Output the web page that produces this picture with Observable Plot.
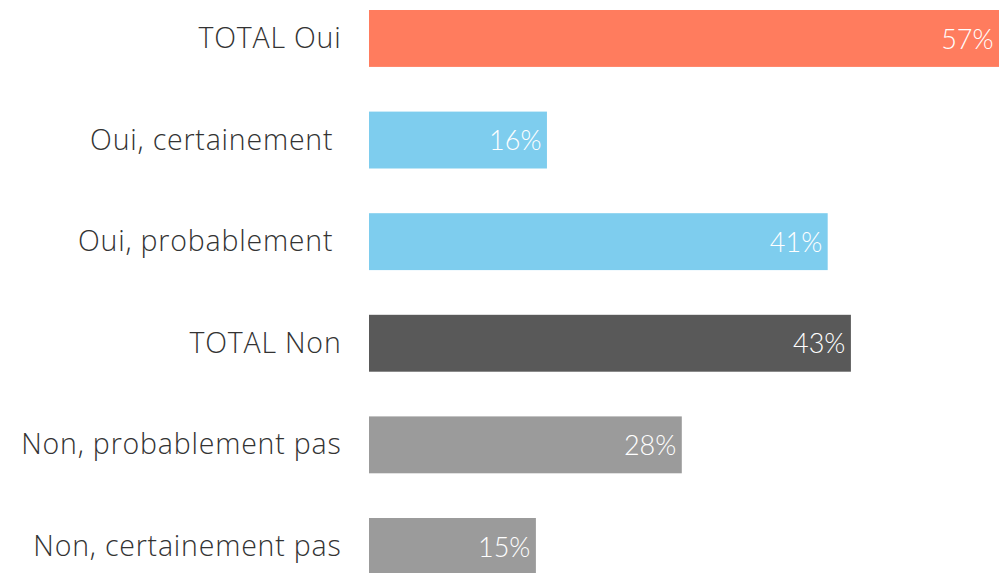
<!DOCTYPE html>
<html>
<head>
<meta charset="utf-8">
<script src="https://cdn.jsdelivr.net/npm/d3@7"></script>
<script src="https://cdn.jsdelivr.net/npm/@observablehq/plot@0.6"></script>
<style>
  html, body { margin: 0; padding: 0; background: #fff; }
  #chart svg { display: block; }
  #chart g[aria-label="y-axis tick label"] text { letter-spacing: 0.8px; }
</style>
</head>
<body>
<div id="chart"></div>
<script>
const categories = ["TOTAL Oui", "Oui, certainement\u00a0", "Oui, probablement\u00a0", "TOTAL Non", "Non, probablement pas", "Non, certainement pas"];
const values = [57, 16.1, 41.5, 43.6, 28.3, 15.1];
const valueLabels = ["57%", "16%", "41%", "43%", "28%", "15%"];
const groups = ["Total oui", "Oui", "Oui", "Total non", "Non", "Non"];
const groupDomain = ["Total oui", "Oui", "Total non", "Non"];
const groupColors = ["#ff7c5e", "#7ecdee", "#595959", "#9b9b9b"];

const data = categories.map((c, i) => ({ category: c, value: values[i], label: valueLabels[i], group: groups[i] }));

const chart = Plot.plot({
  width: 1000,
  height: 573,
  marginLeft: 369,
  marginRight: 1,
  marginTop: 0,
  marginBottom: 0,
  style: { fontFamily: "'Open Sans', Lato, sans-serif", background: "#fff" },
  x: { domain: [0, 57], axis: null },
  y: { domain: categories, range: [-34.7, 619.6], padding: 0.44, round: false, label: null },
  color: { domain: groupDomain, range: groupColors },
  marks: [
    Plot.barX(data, { x: "value", y: "category", fill: "group" }),
    Plot.text(data, { x: "value", y: "category", text: "label", textAnchor: "end", dx: -6, dy: 1, fill: "white", fontSize: 27, fontWeight: 300, fontFamily: "Lato, sans-serif" }),
    Plot.axisY({ tickSize: 0, tickPadding: 28, fontSize: 28.5, fontWeight: 300, fill: "#333333", label: null })
  ]
});
document.getElementById("chart").appendChild(chart);
</script>
</body>
</html>
